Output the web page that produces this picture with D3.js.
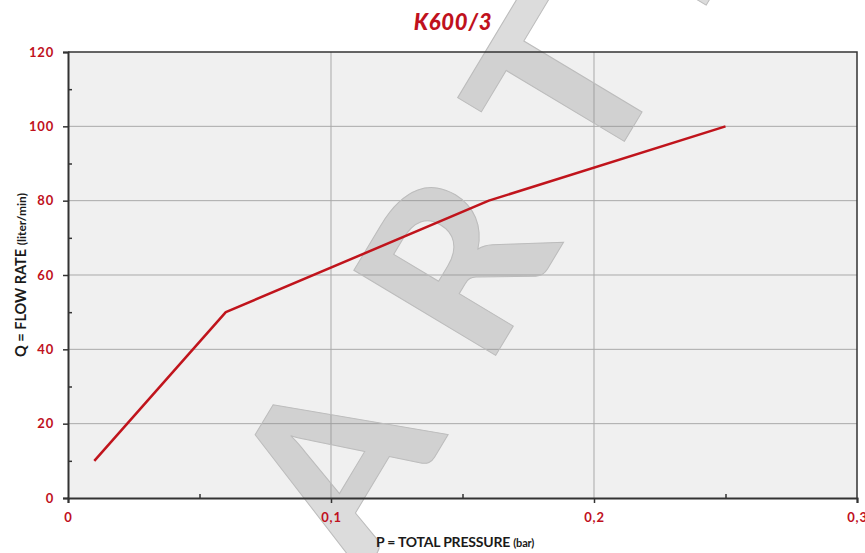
<!DOCTYPE html>
<html>
<head>
<meta charset="utf-8">
<script src="https://cdn.jsdelivr.net/npm/d3@7"></script>
<style>
  body { margin: 0; background: #fff; }
  svg { display: block; }
  .tick text { font-family: Lato, "Open Sans", sans-serif; font-weight: 700; fill: #c0111d; }
</style>
</head>
<body>
<svg id="chart" width="865" height="553"></svg>
<script>
const title    = "K600/3"
const pressure = [0.01, 0.06, 0.16, 0.25]
const flow     = [10, 50, 80, 100]
const xTicks   = [0, 0.1, 0.2, 0.3]
const xMinor   = [0.05, 0.15, 0.25]
const yTicks   = [0, 20, 40, 60, 80, 100, 120]
const yMinor   = [10, 30, 50, 70, 90, 110]
const watermark = ["A", "R", "T", "E"]

const svg = d3.select("#chart")
const m = { left: 68, right: 8, top: 52, bottom: 55 }
const W = 865, H = 553

const x = d3.scaleLinear().domain([0, 0.3]).range([m.left, W - m.right])
const y = d3.scaleLinear().domain([0, 120]).range([H - m.bottom, m.top])

// plot background
svg.append("rect")
  .attr("x", x(0)).attr("y", y(120))
  .attr("width", x(0.3) - x(0)).attr("height", y(0) - y(120))
  .attr("fill", "#f0f0f0")

// grid
const grid = svg.append("g").attr("stroke", "#a9a9a9").attr("stroke-width", 1)
grid.selectAll("line.h").data(yTicks.filter(d => d > 0 && d < 120)).join("line")
  .attr("x1", x(0)).attr("x2", x(0.3))
  .attr("y1", d => y(d)).attr("y2", d => y(d))
grid.selectAll("line.v").data(xTicks.filter(d => d > 0 && d < 0.3)).join("line")
  .attr("x1", d => x(d)).attr("x2", d => x(d))
  .attr("y1", y(0)).attr("y2", y(120))

// watermark letters
const wm = svg.append("g")
  .attr("transform", "translate(493,360) rotate(-59)")
  .attr("font-family", "Lato, sans-serif")
  .attr("font-weight", 900)
  .attr("font-size", 228)
  .attr("fill", "rgb(140,140,140)")
  .attr("fill-opacity", 0.3)
  .attr("stroke", "#bcbcbc")
  .attr("stroke-width", 1)
const wmX = [-169, 62, 272, 462]
wm.selectAll("text").data(watermark).join("text")
  .attr("x", (d, i) => wmX[i]).attr("y", 0)
  .attr("text-anchor", "middle")
  .text(d => d)

// curve
const line = d3.line().x((d, i) => x(pressure[i])).y(d => y(d))
svg.append("path")
  .datum(flow)
  .attr("d", line)
  .attr("fill", "none")
  .attr("stroke", "#c0141c")
  .attr("stroke-width", 2.5)
  .attr("stroke-linejoin", "round")

// frame top / right
svg.append("path")
  .attr("d", `M${x(0)},${y(120)}H${x(0.3)}V${y(0)}`)
  .attr("fill", "none").attr("stroke", "#333").attr("stroke-width", 1.5)

// axes
const fmt = d => d === 0 ? "0" : d3.format(".1f")(d).replace(".", ",")
const xAxis = svg.append("g").attr("transform", `translate(0,${y(0)})`)
  .call(d3.axisBottom(x).tickValues(xTicks).tickFormat(fmt).tickSize(5).tickPadding(10))
const xMin = svg.append("g").attr("transform", `translate(0,${y(0)})`)
  .call(d3.axisTop(x).tickValues(xMinor).tickFormat("").tickSize(4))
const yAxis = svg.append("g").attr("transform", `translate(${x(0)},0)`)
  .call(d3.axisLeft(y).tickValues(yTicks).tickSize(5).tickPadding(9))
const yMin = svg.append("g").attr("transform", `translate(${x(0)},0)`)
  .call(d3.axisRight(y).tickValues(yMinor).tickFormat("").tickSize(4))

for (const g of [xAxis, xMin, yAxis, yMin]) {
  g.select(".domain").attr("stroke", "#333").attr("stroke-width", 2)
  g.selectAll(".tick line").attr("stroke", "#333").attr("stroke-width", 1.5)
}
xMin.select(".domain").remove()
yMin.select(".domain").remove()
xAxis.selectAll(".tick text").attr("font-size", 13).attr("letter-spacing", 0.8)
yAxis.selectAll(".tick text").attr("font-size", 13).attr("letter-spacing", 0.8)

// title
svg.append("text")
  .attr("x", 453).attr("y", 30)
  .attr("text-anchor", "middle")
  .attr("font-family", "Lato, sans-serif")
  .attr("font-weight", 900)
  .attr("font-style", "italic")
  .attr("font-size", 22)
  .attr("letter-spacing", 0.8)
  .attr("fill", "#c0111d")
  .text(title)

// axis titles
const xt = svg.append("text")
  .attr("x", 455).attr("y", 547)
  .attr("text-anchor", "middle")
  .attr("font-family", "Lato, sans-serif")
  .attr("font-weight", 700)
  .attr("font-size", 14)
  .attr("letter-spacing", -0.2)
  .attr("fill", "#1a1a1a")
xt.append("tspan").text("P = TOTAL PRESSURE ")
xt.append("tspan").attr("font-size", 11).text("(bar)")

const yt = svg.append("text")
  .attr("transform", `translate(26,${(y(0) + y(120)) / 2}) rotate(-90)`)
  .attr("text-anchor", "middle")
  .attr("font-family", "Lato, sans-serif")
  .attr("font-weight", 700)
  .attr("font-size", 14.5)
  .attr("fill", "#1a1a1a")
yt.append("tspan").text("Q = FLOW RATE ")
yt.append("tspan").attr("font-size", 12).text("(liter/min)")
</script>
</body>
</html>
